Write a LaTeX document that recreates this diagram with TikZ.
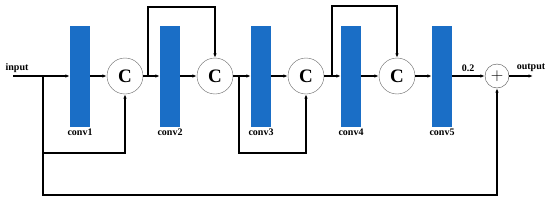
\documentclass[tikz,border=0pt]{standalone}
\usepackage{fontspec}
\setmainfont{Liberation Serif}
\usetikzlibrary{arrows.meta, positioning}
\definecolor{barblue}{RGB}{26,110,198}
\begin{document}
\begin{tikzpicture}[x=1pt, y=-1pt, every node/.style={font=\bfseries\fontsize{10}{12}\selectfont},
  convbar/.style={fill=barblue, minimum width=20pt, minimum height=101pt, inner sep=0pt},
  catnode/.style={circle, draw=black!60, fill=white, minimum size=36pt, inner sep=0pt, font=\bfseries\fontsize{19}{19}\selectfont},
  sumnode/.style={circle, draw=black!70, fill=white, minimum size=24pt, inner sep=0pt, font=\fontsize{16}{16}\selectfont},
  flow/.style={-{Latex[length=4.5pt,width=3.5pt]}, line width=1.2pt}]
\useasboundingbox (0,0) rectangle (550,201);
% blocks on the main line
\node[convbar] (conv1) at (80,76) {};
\node[catnode] (cat1) at (125,76) {C};
\node[convbar] (conv2) at (170,76) {};
\node[catnode] (cat2) at (215,76) {C};
\node[convbar] (conv3) at (261,76) {};
\node[catnode] (cat3) at (306,76) {C};
\node[convbar] (conv4) at (351,76) {};
\node[catnode] (cat4) at (397,76) {C};
\node[convbar] (conv5) at (442,76) {};
\node[sumnode] (plus) at (497,76) {$+$};
% labels
\node[below=-1.5pt of conv1] (lbl1) {conv1};
\node[below=-1.5pt of conv2] (lbl2) {conv2};
\node[below=-1.5pt of conv3] (lbl3) {conv3};
\node[below=-1.5pt of conv4] (lbl4) {conv4};
\node[below=-1.5pt of conv5] (lbl5) {conv5};
\node (inlbl) at (17,68) {input};
\node (outlbl) at (531,68) {output};
\node (scale) at (468,68) {0.2};
% free ends and junctions
\coordinate (in) at (13,76);
\coordinate (out) at (533,76);
\coordinate (split) at (43,76);
\coordinate (j1) at (148,76);
\coordinate (j2) at (239,76);
\coordinate (j3) at (332,76);
% main path
\draw[flow] (in) -- (conv1);
\draw[flow] (conv1) -- (cat1);
\draw[flow] (cat1) -- (conv2);
\draw[flow] (conv2) -- (cat2);
\draw[flow] (cat2) -- (conv3);
\draw[flow] (conv3) -- (cat3);
\draw[flow] (cat3) -- (conv4);
\draw[flow] (conv4) -- (cat4);
\draw[flow] (cat4) -- (conv5);
\draw[flow] (conv5) -- (plus);
\draw[flow] (plus) -- (out);
% skip connections
\draw[flow] (split) -- ++(0,77) -| (cat1.south);
\draw[flow] (split) -- ++(0,119) -| (plus.south);
\draw[flow] (j1) -- ++(0,-69) -| (cat2.north);
\draw[flow] (j2) -- ++(0,77) -| (cat3.south);
\draw[flow] (j3) -- ++(0,-70) -| (cat4.north);
\end{tikzpicture}
\end{document}
